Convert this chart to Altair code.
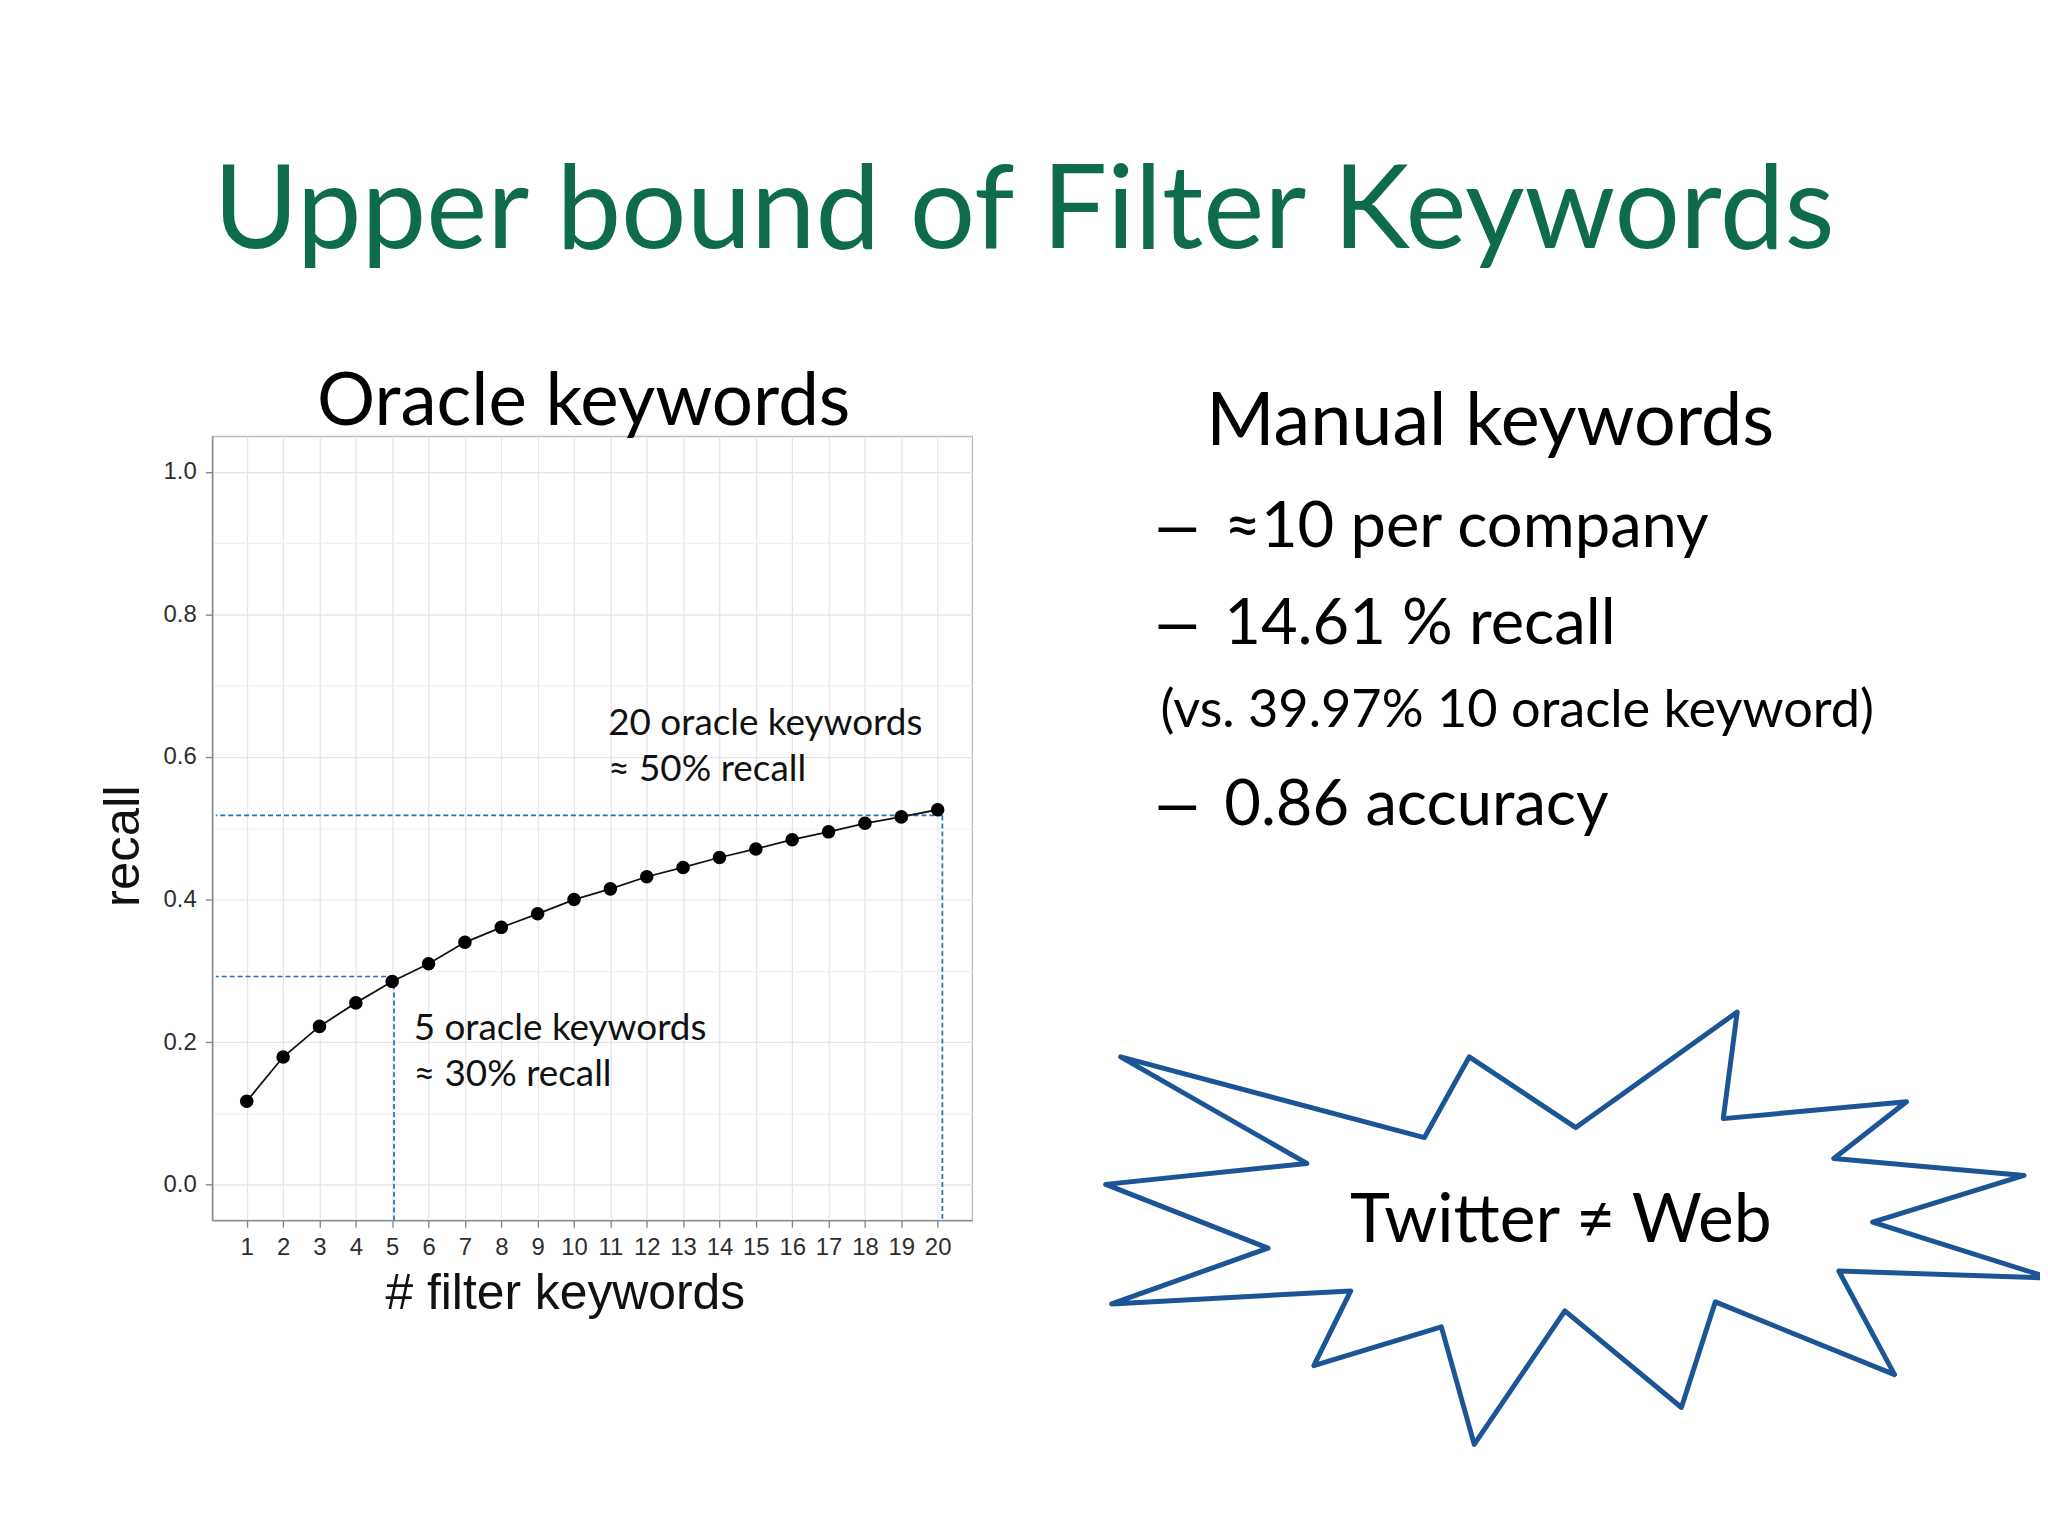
import altair as alt
import pandas as pd

# ---- data ----
k = list(range(1, 21))
recall = [0.117, 0.179, 0.222, 0.255, 0.285, 0.310, 0.340, 0.361, 0.380, 0.400,
          0.415, 0.432, 0.445, 0.459, 0.471, 0.484, 0.495, 0.507, 0.516, 0.526]

guide_x = [5.05, 20.13]
guide_y = [0.292, 0.518]

x_grid = [1, 1.5, 2, 2.5, 3, 3.5, 4, 4.5, 5, 5.5, 6, 6.5, 7, 7.5, 8, 8.5, 9, 9.5, 10, 10.5,
          11, 11.5, 12, 12.5, 13, 13.5, 14, 14.5, 15, 15.5, 16, 16.5, 17, 17.5, 18, 18.5,
          19, 19.5, 20]
y_grid = [0.0, 0.1, 0.2, 0.3, 0.4, 0.5, 0.6, 0.7, 0.8, 0.9, 1.0]

slide_title = "Upper bound of Filter Keywords"
left_heading = "Oracle keywords"
right_heading = "Manual keywords"
bullets = ["≈10 per company", "14.61 % recall", "0.86 accuracy"]
bullet_note = "(vs. 39.97% 10 oracle keyword)"
ann_20 = ["20 oracle keywords", "≈ 50% recall"]
ann_5 = ["5 oracle keywords", "≈ 30% recall"]
burst_text = "Twitter ≠ Web"

# starburst outline vertices (slide coordinates)
star_x = [1125, 1430, 1475, 1582, 1744, 1730, 1914, 1841, 2032, 1880, 2058, 1846,
          1902, 1722, 1688, 1571, 1480, 1447, 1319, 1356, 1116, 1273, 1110, 1312]
star_y = [1058, 1139, 1058, 1129, 1013, 1120, 1103, 1160, 1177, 1224, 1280, 1273,
          1377, 1304, 1410, 1313, 1447, 1329, 1368, 1293, 1306, 1250, 1186, 1165]

# ---- layout ----
W, H = 763, 787
PL, PT = 205, 427
PR, PB = 2040 - PL - W, 1528 - PT - H
OX, OY = PL + 8, PT + 8  # page position of plot origin

df = pd.DataFrame({"k": k, "recall": recall})
gdf = pd.DataFrame({"gx": guide_x, "gy": guide_y})
sdf = pd.DataFrame({"sx": star_x, "sy": star_y, "i": list(range(len(star_x)))})

LAB = "Liberation Sans"
TXT = "Lato"

x_axis = alt.Axis(
    values=x_grid, title="# filter keywords",
    labelExpr="datum.value % 1 == 0 ? format(datum.value, 'd') : ''",
    labelOverlap=False, labelFlush=False,
    labelFont=LAB, labelFontSize=24, labelColor="#2e2e2e", labelPadding=8,
    tickColor="#7f7f7f", tickSize=7, tickWidth=1.3,
    tickOpacity={"condition": {"test": "datum.value % 1 != 0", "value": 0}, "value": 1},
    gridColor={"condition": {"test": "datum.value % 1 != 0", "value": "#f0f0f3"}, "value": "#e4e4e9"},
    gridWidth=1.2,
    domainColor="#8c8c8c", domainWidth=1.6,
    titleFont=LAB, titleFontSize=50, titleFontWeight="normal", titleColor="#111111",
    titleX=354, titleY=89, titleAlign="center", titleBaseline="alphabetic",
)
y_axis = alt.Axis(
    values=y_grid, title="recall",
    labelExpr="round(datum.value * 10) % 2 == 0 ? format(datum.value, '.1f') : ''",
    labelOverlap=False, labelFlush=False,
    labelFont=LAB, labelFontSize=24, labelColor="#2e2e2e", labelPadding=9,
    tickColor="#7f7f7f", tickSize=7, tickWidth=1.3,
    tickOpacity={"condition": {"test": "round(datum.value * 10) % 2 != 0", "value": 0}, "value": 1},
    gridColor={"condition": {"test": "round(datum.value * 10) % 2 != 0", "value": "#f0f0f3"}, "value": "#e4e4e9"},
    gridWidth=1.2,
    domainColor="#8c8c8c", domainWidth=1.6,
    titleFont=LAB, titleFontSize=51, titleFontWeight="normal", titleColor="#111111",
    titleX=-74, titleY=411, titleAngle=270, titleAlign="center", titleBaseline="alphabetic",
)

xs = alt.Scale(domain=[0.05, 20.95], nice=False, zero=False)
ys = alt.Scale(domain=[-0.05, 1.05], nice=False, zero=False)

guide_color = "#1f6fbf"
h_rules = alt.Chart(gdf).mark_rule(strokeDash=[5, 3], color=guide_color, strokeWidth=1.7).encode(
    x=alt.X("gx:Q", scale=xs, axis=x_axis), x2=alt.datum(0.15),
    y=alt.Y("gy:Q", scale=ys, axis=y_axis),
)
v_rules = alt.Chart(gdf).mark_rule(strokeDash=[5, 3], color=guide_color, strokeWidth=1.7).encode(
    x="gx:Q", y="gy:Q", y2=alt.datum(-0.05),
)
line = alt.Chart(df).mark_line(color="#111111", strokeWidth=1.8).encode(x="k:Q", y="recall:Q")
points = alt.Chart(df).mark_circle(color="#000000", opacity=1, size=185).encode(x="k:Q", y="recall:Q")


def ann(text, xv, yv):
    return alt.Chart(alt.Data(values=[{"t": text}])).mark_text(
        align="left", baseline="alphabetic", font=TXT, fontSize=37, color="#111111"
    ).encode(x=alt.datum(xv), y=alt.datum(yv), text="t:N")


plot = alt.layer(
    h_rules, v_rules, line, points,
    ann(ann_20[0], 10.94, 0.631), ann(ann_20[1], 10.94, 0.566),
    ann(ann_5[0], 5.59, 0.203), ann(ann_5[1], 5.59, 0.138),
)

star = alt.Chart(sdf).mark_line(
    interpolate="linear-closed", color="#1b5595", strokeWidth=5, strokeJoin="round"
).encode(
    x=alt.X("sx:Q", scale=alt.Scale(domain=[0, 2048], range=[-OX, 2048 - OX]), axis=None),
    y=alt.Y("sy:Q", scale=alt.Scale(domain=[0, 1536], range=[-OY, 1536 - OY]), axis=None),
    order="i:Q",
)


def txt(s, px, py, size, color="#000000", align="left", font=TXT):
    return alt.Chart(alt.Data(values=[{"t": s}])).mark_text(
        align=align, baseline="alphabetic", font=font, fontSize=size, color=color
    ).encode(x=alt.value(px - OX), y=alt.value(py - OY), text="t:N")


def dash(py):
    return txt("–", 1163, py, 68, font="Liberation Sans")


texts = [
    txt(slide_title, 1028, 246, 116, color="#0e6b4d", align="center"),
    txt(left_heading, 586, 424, 73, align="center"),
    txt(right_heading, 1211, 444, 74),
    dash(546), txt(bullets[0], 1229, 546, 63.5),
    dash(643), txt(bullets[1], 1229, 643, 63.5),
    txt(bullet_note, 1165, 727, 52.5),
    dash(825), txt(bullets[2], 1229, 825, 63.5),
    txt(burst_text, 1567, 1244, 68, align="center"),
]

chart = alt.layer(plot, star, *texts).resolve_scale(x="independent", y="independent").properties(
    width=W, height=H,
    autosize=alt.AutoSizeParams(type="none"),
    padding={"left": PL, "top": PT, "right": PR, "bottom": PB},
    background="white",
).configure_view(stroke="#bcbcbc", strokeWidth=1.3)

chart.save("out.html", embed_options={"renderer": "svg", "actions": False})
